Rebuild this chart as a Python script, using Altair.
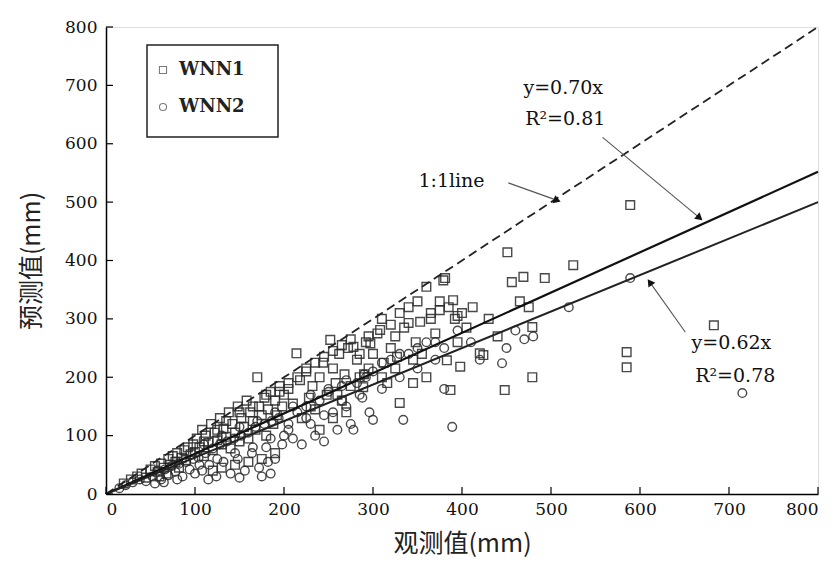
import altair as alt
import pandas as pd

# ---------------- data ----------------
# WNN1 (squares): observed, predicted (mm)
x1 = [20, 28, 35, 40, 45, 50, 55, 58, 62, 65, 70, 72, 75, 78, 80, 85, 88, 90, 92, 95, 98, 100, 60, 68, 82,
      102, 105, 108, 110, 112, 115, 118, 120, 122, 125, 128, 130, 132, 135, 138, 140, 142, 145, 148, 150,
      152, 155, 158, 160, 162, 165, 168, 170, 172, 175, 178, 180, 182, 185, 188, 190, 192, 195, 198, 200,
      130, 145, 160, 175, 190, 120,
      205, 210, 214, 218, 220, 225, 228, 232, 235, 240, 244, 248, 252, 255, 258, 262, 265, 268, 272, 275,
      278, 282, 285, 289, 292, 295, 297, 300, 240, 255, 270,
      305, 308, 312, 316, 320, 325, 327, 330, 335, 340, 345, 348, 353, 355, 360, 360, 365, 370, 375, 379,
      381, 383, 387, 390, 392, 395, 398, 400,
      405, 412, 420, 424, 430, 440, 448, 451, 456, 469, 479, 479, 493, 465, 475, 525, 589, 585, 585, 683,
      110, 125, 135, 150, 165, 180, 195, 205, 215, 225, 235, 245, 255, 265, 275, 285, 295, 310, 320, 330,
      340, 350, 365, 375, 385, 395, 310, 325, 345, 230, 260, 290]
y1 = [18, 25, 30, 35, 28, 42, 48, 38, 52, 45, 60, 50, 65, 55, 70, 62, 75, 58, 80, 68, 85, 72, 30, 35, 45,
      95, 80, 110, 65, 100, 88, 120, 75, 105, 92, 130, 85, 112, 98, 140, 78, 120, 105, 150, 90,
      130, 115, 160, 95, 140, 125, 110, 200, 150, 135, 165, 100, 145, 175, 120, 160, 135, 185, 150, 170,
      45, 50, 55, 60, 70, 40,
      180, 155, 241, 195, 130, 210, 165, 185, 145, 200, 225, 170, 264, 215, 190, 240, 160, 205, 250, 185,
      252, 230, 200, 183, 260, 215, 258, 240, 110, 130, 140,
      275, 281, 225, 190, 250, 270, 235, 156, 285, 293, 190, 260, 295, 240, 355, 200, 310, 275, 330, 366,
      370, 229, 178, 332, 300, 260, 218, 310,
      285, 320, 241, 238, 300, 270, 178, 414, 363, 372, 286, 200, 370, 330, 320, 392, 495, 243, 217, 289,
      90, 110, 125, 140, 150, 170, 175, 190, 200, 215, 225, 235, 245, 255, 265, 240, 270, 300, 290, 310,
      320, 330, 300, 315, 320, 305, 200, 215, 230, 150, 170, 205]

# WNN2 (circles): observed, predicted (mm)
x2 = [15, 22, 30, 38, 45, 52, 58, 62, 66, 70, 74, 78, 82, 86, 90, 94, 98, 100, 55, 65, 80,
      104, 108, 112, 116, 120, 124, 128, 132, 136, 140, 144, 148, 152, 156, 160, 164, 168, 172, 175, 178,
      180, 182, 186, 190, 194, 198, 200, 115, 150, 185,
      205, 210, 215, 220, 225, 230, 235, 240, 245, 250, 255, 260, 265, 270, 275, 278, 282, 288, 292, 296,
      300, 300,
      310, 320, 330, 334, 340, 350, 360, 370, 380, 389, 395, 410, 420, 445, 450, 460, 470, 480, 520, 589,
      715, 380,
      110, 130, 150, 170, 190, 210, 230, 250, 270, 290, 310, 330, 350, 370, 105, 125, 145, 165, 185, 205,
      225, 245, 265, 285]
y2 = [10, 15, 20, 25, 22, 30, 40, 25, 42, 32, 48, 38, 52, 30, 55, 42, 60, 35, 18, 20, 25,
      62, 40, 70, 50, 78, 30, 85, 55, 90, 35, 95, 60, 100, 40, 105, 70, 115, 45, 30, 120,
      80, 55, 125, 60, 130, 85, 100, 25, 28, 35,
      110, 95, 140, 85, 150, 120, 100, 160, 90, 175, 140, 110, 185, 150, 120, 110, 190, 165, 200, 140,
      127, 210,
      180, 230, 200, 127, 240, 215, 260, 230, 250, 115, 280, 260, 230, 224, 250, 280, 265, 270, 320, 370,
      173, 180,
      85, 100, 115, 125, 140, 150, 170, 180, 195, 205, 225, 240, 250, 260, 50, 60, 70, 80, 95, 120,
      130, 135, 160, 170]

series_names = ["WNN1", "WNN2"]
series_shapes = ["square", "circle"]

# reference lines (end points)
line_x = [0, 800]
one_to_one_y = [0, 800]
fit1_y = [0, 552]   # y=0.70x
fit2_y = [0, 500]   # y=0.62x

tick_values = [0, 100, 200, 300, 400, 500, 600, 700, 800]

# annotation texts and anchor positions (data units)
ann_text = ["y=0.70x", "R²=0.81", "1:1line", "y=0.62x", "R²=0.78"]
ann_x = [469, 471, 351, 658, 662]
ann_y = [695, 643, 536, 259, 202]

# arrows: start (x,y) -> tip (x,y), in data units
arr_x0 = [558, 452, 651]
arr_y0 = [611, 533, 277]
arr_x1 = [667, 507, 611]
arr_y1 = [473, 503, 363]
arr_angle = [40, 19, 235]

# ---------------- build frames ----------------
W, H = 712, 467
SERIF = "DejaVu Serif"
CJK = "Noto Sans CJK SC"

pts = pd.concat([
    pd.DataFrame({"obs": x1, "pred": y1, "series": series_names[0]}),
    pd.DataFrame({"obs": x2, "pred": y2, "series": series_names[1]}),
])

lines = pd.DataFrame({
    "x": line_x * 3,
    "y": one_to_one_y + fit1_y + fit2_y,
    "kind": ["1:1"] * 2 + ["fit1"] * 2 + ["fit2"] * 2,
})

ann = pd.DataFrame({"t": ann_text, "x": ann_x, "y": ann_y})
arrows = pd.DataFrame({"x0": arr_x0, "y0": arr_y0, "x1": arr_x1, "y1": arr_y1, "a": arr_angle})
ticks = pd.DataFrame({"v": tick_values})

xscale = alt.Scale(domain=[0, 800], nice=False)
yscale = alt.Scale(domain=[0, 800], nice=False)

xaxis = alt.Axis(values=tick_values, ticks=False, grid=False, domainColor="black", domainWidth=1.5,
                 labelFont=SERIF, labelFontSize=17, labelColor="#111", labelPadding=7,
                 title="观测值(mm)", titleFont=CJK, titleFontSize=25, titleFontWeight="normal",
                 titleColor="#222", titlePadding=14)
yaxis = alt.Axis(values=tick_values, ticks=False, grid=False, domainColor="black", domainWidth=1.5,
                 labelFont=SERIF, labelFontSize=17, labelColor="#111", labelPadding=9,
                 title="预测值(mm)", titleFont=CJK, titleFontSize=25, titleFontWeight="normal",
                 titleColor="#222", titlePadding=20)


def X(field):
    return alt.X(field, scale=xscale, axis=xaxis)


def Y(field):
    return alt.Y(field, scale=yscale, axis=yaxis)


base_pts = alt.Chart(pts).mark_point(filled=False, strokeWidth=1.4, opacity=0.85, size=75).encode(
    x=X("obs:Q"),
    y=Y("pred:Q"),
    shape=alt.Shape("series:N", scale=alt.Scale(domain=series_names, range=series_shapes), legend=None),
    color=alt.value("#2a2a2a"),
)

one = alt.Chart(lines[lines.kind == "1:1"]).mark_line(color="#222", strokeWidth=1.8, strokeDash=[9, 5]).encode(
    x=X("x:Q"), y=Y("y:Q"))
fit1 = alt.Chart(lines[lines.kind == "fit1"]).mark_line(color="#111", strokeWidth=2.2).encode(
    x=X("x:Q"), y=Y("y:Q"))
fit2 = alt.Chart(lines[lines.kind == "fit2"]).mark_line(color="#222", strokeWidth=2).encode(
    x=X("x:Q"), y=Y("y:Q"))

xt = alt.Chart(ticks).mark_rule(color="black", strokeWidth=1.2).encode(
    x=X("v:Q"), y=alt.value(H), y2=alt.value(H - 7))
yt = alt.Chart(ticks).mark_rule(color="black", strokeWidth=1.2).encode(
    y=Y("v:Q"), x=alt.value(0), x2=alt.value(7))

texts = alt.Chart(ann).mark_text(font=SERIF, fontSize=19, color="#111", align="left", baseline="middle").encode(
    x=X("x:Q"), y=Y("y:Q"), text="t:N")

shafts = alt.Chart(arrows).mark_rule(color="#555", strokeWidth=1.1).encode(
    x=X("x0:Q"), y=Y("y0:Q"), x2="x1:Q", y2="y1:Q")
heads = alt.Chart(arrows).mark_point(shape="triangle-right", filled=True, color="#111", size=70, opacity=1).encode(
    x=X("x1:Q"), y=Y("y1:Q"), angle=alt.Angle("a:Q", scale=None))

# manual legend box
leg_df = pd.DataFrame({"name": series_names})
leg_box = alt.Chart(leg_df.head(1)).mark_rect(fill="white", stroke="#222", strokeWidth=1.5).encode(
    x=alt.value(41), x2=alt.value(172), y=alt.value(18), y2=alt.value(110))
leg_layers = []
for i, (nm, shp) in enumerate(zip(series_names, series_shapes)):
    row_y = 43 + 37 * i
    d = leg_df.iloc[[i]]
    leg_layers.append(alt.Chart(d).mark_point(filled=False, color="#444", size=50, strokeWidth=1.1,
                                              shape=shp).encode(x=alt.value(57), y=alt.value(row_y)))
    leg_layers.append(alt.Chart(d).mark_text(font=SERIF, fontSize=18, fontWeight="bold", color="#222",
                                             align="left", baseline="middle").encode(
        x=alt.value(73), y=alt.value(row_y), text="name:N"))

chart = alt.layer(
    base_pts, one, fit1, fit2, xt, yt, shafts, heads, texts, leg_box, *leg_layers
).properties(
    width=W, height=H,
    autosize=alt.AutoSizeParams(type="none"),
    padding={"left": 98, "top": 19, "right": 12, "bottom": 74},
).configure_view(stroke="black", strokeWidth=1.5).configure(background="white")

chart.save("out.html", embed_options={"renderer": "svg", "actions": False})
